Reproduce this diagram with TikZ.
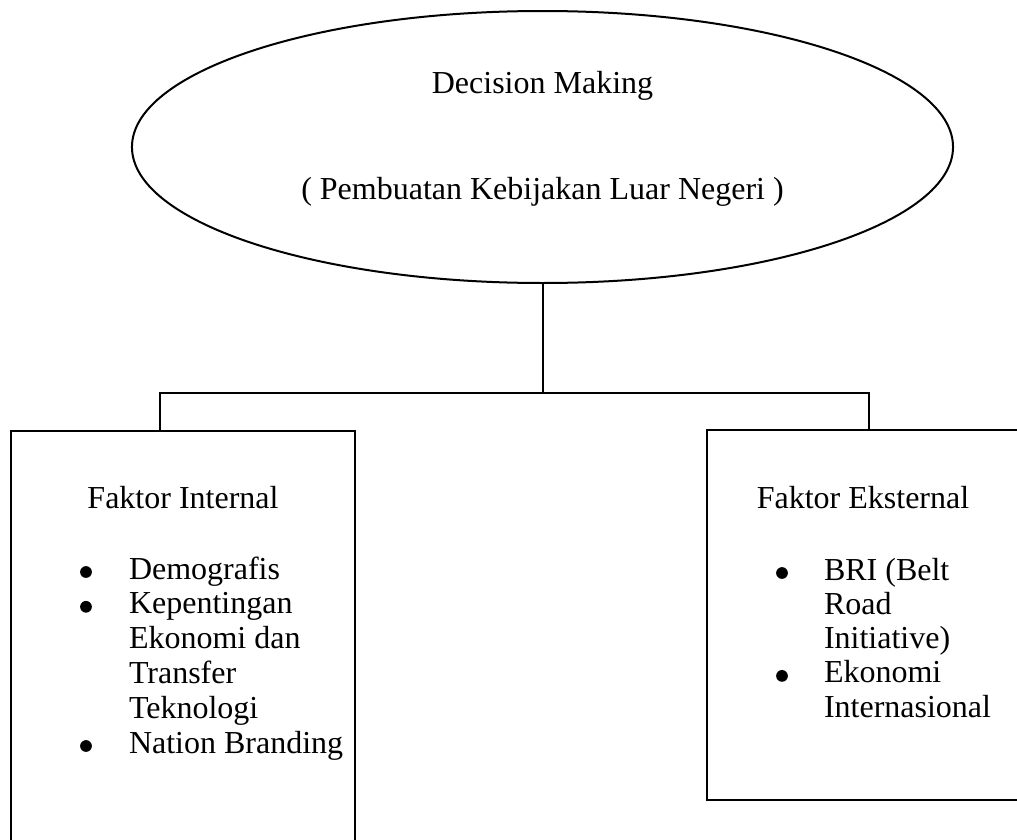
\documentclass[tikz,border=0pt]{standalone}
\usepackage{fontspec}
\setmainfont{Liberation Serif}
\usetikzlibrary{shapes.geometric,fit}

\tikzset{
  txt/.style={font=\fontsize{12pt}{14pt}\selectfont, inner sep=0pt},
  frame/.style={draw, line width=0.75pt, inner sep=0pt},
  dot/.style={circle, fill, inner sep=0pt, minimum size=4.4pt},
}

\begin{document}
\begin{tikzpicture}[x=0.375pt,y=-0.375pt,line width=0.75pt]
\useasboundingbox (0,0) rectangle (1017,839);

% decision making
\node[frame, ellipse, minimum width=307.9pt, minimum height=102pt] (dm) at (542.5,147) {};
\node[txt, anchor=base] (dmtitle) at (542.5,93) {Decision Making};
\node[txt, anchor=base] (dmsub) at (542.5,199) {( Pembuatan Kebijakan Luar Negeri )};

% boxes
\node[frame, fit={(11,431) (355,900)}] (internal) {};
\node[frame, fit={(707,430) (1040,800)}] (external) {};

% connectors
\coordinate (split) at (542.5,393);
\coordinate (lft) at (160,393);
\coordinate (rgt) at (869,393);
\draw (dm.south) -- (split);
\draw (lft |- internal.north) -- (lft) -- (rgt) -- (rgt |- external.north);

% internal factors
\node[txt, anchor=base] (inttitle) at (183,508) {Faktor Internal};
\foreach \t [count=\i] in {Demografis, Kepentingan, Ekonomi dan, Transfer, Teknologi, Nation Branding}
  \node[txt, anchor=base west] (int\i) at (128,{579+34.8*(\i-1)}) {\t};
\foreach \i in {1,2,6}
  \node[dot] (intb\i) at (86,{572+34.8*(\i-1)}) {};

% external factors
\node[txt, anchor=base] (exttitle) at (863,508) {Faktor Eksternal};
\foreach \t [count=\i] in {BRI (Belt, Road, Initiative), Ekonomi, Internasional}
  \node[txt, anchor=base west] (ext\i) at (823,{580+34.3*(\i-1)}) {\t};
\foreach \i in {1,4}
  \node[dot] (extb\i) at (782,{573+34.3*(\i-1)}) {};

\end{tikzpicture}
\end{document}
